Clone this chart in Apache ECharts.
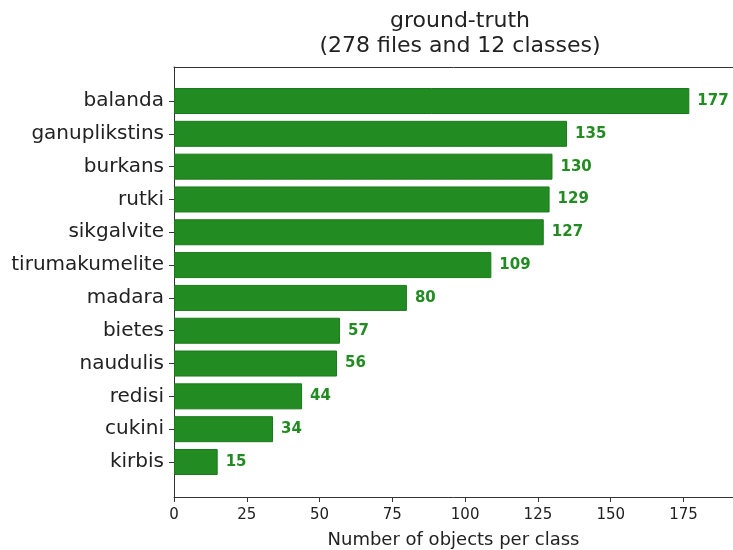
<!DOCTYPE html>
<html>
<head>
<meta charset="utf-8">
<script src="https://cdn.jsdelivr.net/npm/echarts@6/dist/echarts.min.js"></script>
<style>
  html, body { margin: 0; padding: 0; background: #fff; }
  #chart { width: 733px; height: 550px; }
</style>
</head>
<body>
<div id="chart"></div>
<script>
const classes = [
    'balanda', 'ganuplikstins', 'burkans', 'rutki', 'sikgalvite',
    'tirumakumelite', 'madara', 'bietes', 'naudulis', 'redisi', 'cukini', 'kirbis',
];
const counts = [177, 135, 130, 129, 127, 109, 80, 57, 56, 44, 34, 15];
const xTicks = [0, 25, 50, 75, 100, 125, 150, 175];

const FONT = 'DejaVu Sans';
const GREEN = '#228B22';
const X_MAX = 192;

const chart = echarts.init(document.getElementById('chart'), null, { renderer: 'canvas' });

chart.setOption({
    animation: false,
    title: {
        text: 'ground-truth\n(278 files and 12 classes)',
        left: 455,
        top: 4,
        textAlign: 'center',
        textStyle: { fontFamily: FONT, fontSize: 22, fontWeight: 'normal', color: '#222', lineHeight: 25 },
    },
    grid: [
        // frame grid: spines, x ticks and labels
        { left: 174, right: 0, top: 67, bottom: 53, outerBoundsMode: 'none' },
        // bars grid: category bands
        { left: 174, right: 0, top: 84.6, bottom: 71.6, outerBoundsMode: 'none' },
    ],
    xAxis: [
        {
            gridIndex: 0, type: 'value', min: 0, max: X_MAX,
            axisLine: { show: true, lineStyle: { color: '#333', width: 1 } },
            axisTick: { show: true, length: 5, lineStyle: { color: '#333' }, customValues: xTicks },
            axisLabel: { fontFamily: FONT, fontSize: 15, color: '#222', margin: 11, customValues: xTicks },
            splitLine: { show: false },
            name: 'Number of objects per class',
            nameLocation: 'middle',
            nameGap: 34,
            nameTextStyle: { fontFamily: FONT, fontSize: 18, color: '#222' },
        },
        {
            gridIndex: 0, type: 'value', min: 0, max: X_MAX, position: 'top',
            axisLine: { show: true, lineStyle: { color: '#333', width: 1 } },
            axisTick: { show: false }, axisLabel: { show: false }, splitLine: { show: false },
        },
        {
            gridIndex: 1, type: 'value', min: 0, max: X_MAX, show: false,
        },
    ],
    yAxis: [
        {
            gridIndex: 0, type: 'value', min: 0, max: 1,
            axisLine: { show: true, lineStyle: { color: '#333', width: 1 } },
            axisTick: { show: false }, axisLabel: { show: false }, splitLine: { show: false },
        },
        {
            gridIndex: 1, type: 'category', data: classes, inverse: true,
            axisLine: { show: false },
            axisTick: { show: true, alignWithLabel: true, length: 5, lineStyle: { color: '#333' } },
            axisLabel: { fontFamily: FONT, fontSize: 20, color: '#222', margin: 10 },
        },
    ],
    series: [{
        type: 'bar',
        xAxisIndex: 2,
        yAxisIndex: 1,
        data: counts,
        barWidth: 26,
        itemStyle: { color: GREEN, borderColor: '#1a7a1a', borderWidth: 1 },
        label: {
            show: true,
            position: 'right',
            distance: 8,
            fontFamily: FONT,
            fontSize: 15,
            fontWeight: 'bold',
            color: GREEN,
        },
    }],
});
</script>
</body>
</html>
